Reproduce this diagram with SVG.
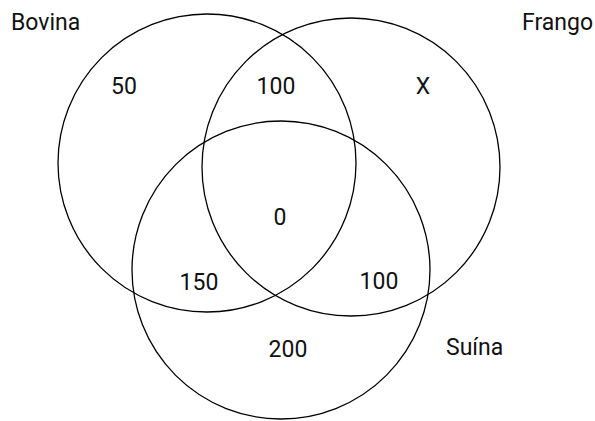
<svg xmlns="http://www.w3.org/2000/svg" width="595" height="421" viewBox="0 0 595 421">
<style>
.c{fill:none;stroke:#000;stroke-width:1.3}
text{font-family:Roboto,"Liberation Sans",sans-serif;font-size:23px;fill:#111}
.m{text-anchor:middle}
</style>
<rect width="595" height="421" fill="#fff"/>
<g id="bovina"><circle class="c" cx="207" cy="163" r="149"/><text x="11" y="30">Bovina</text></g>
<g id="frango"><circle class="c" cx="351" cy="167" r="149"/><text x="522" y="30">Frango</text></g>
<g id="suina"><circle class="c" cx="281" cy="270" r="149"/><text x="446" y="355">Suína</text></g>
<g id="labels">
<text class="m" x="124" y="94">50</text>
<text class="m" x="276" y="94">100</text>
<text class="m" x="423" y="94">X</text>
<text class="m" x="280" y="225">0</text>
<text class="m" x="199" y="290">150</text>
<text class="m" x="379" y="289">100</text>
<text class="m" x="288" y="357">200</text>
</g>
<g id="connectors"/>
</svg>
